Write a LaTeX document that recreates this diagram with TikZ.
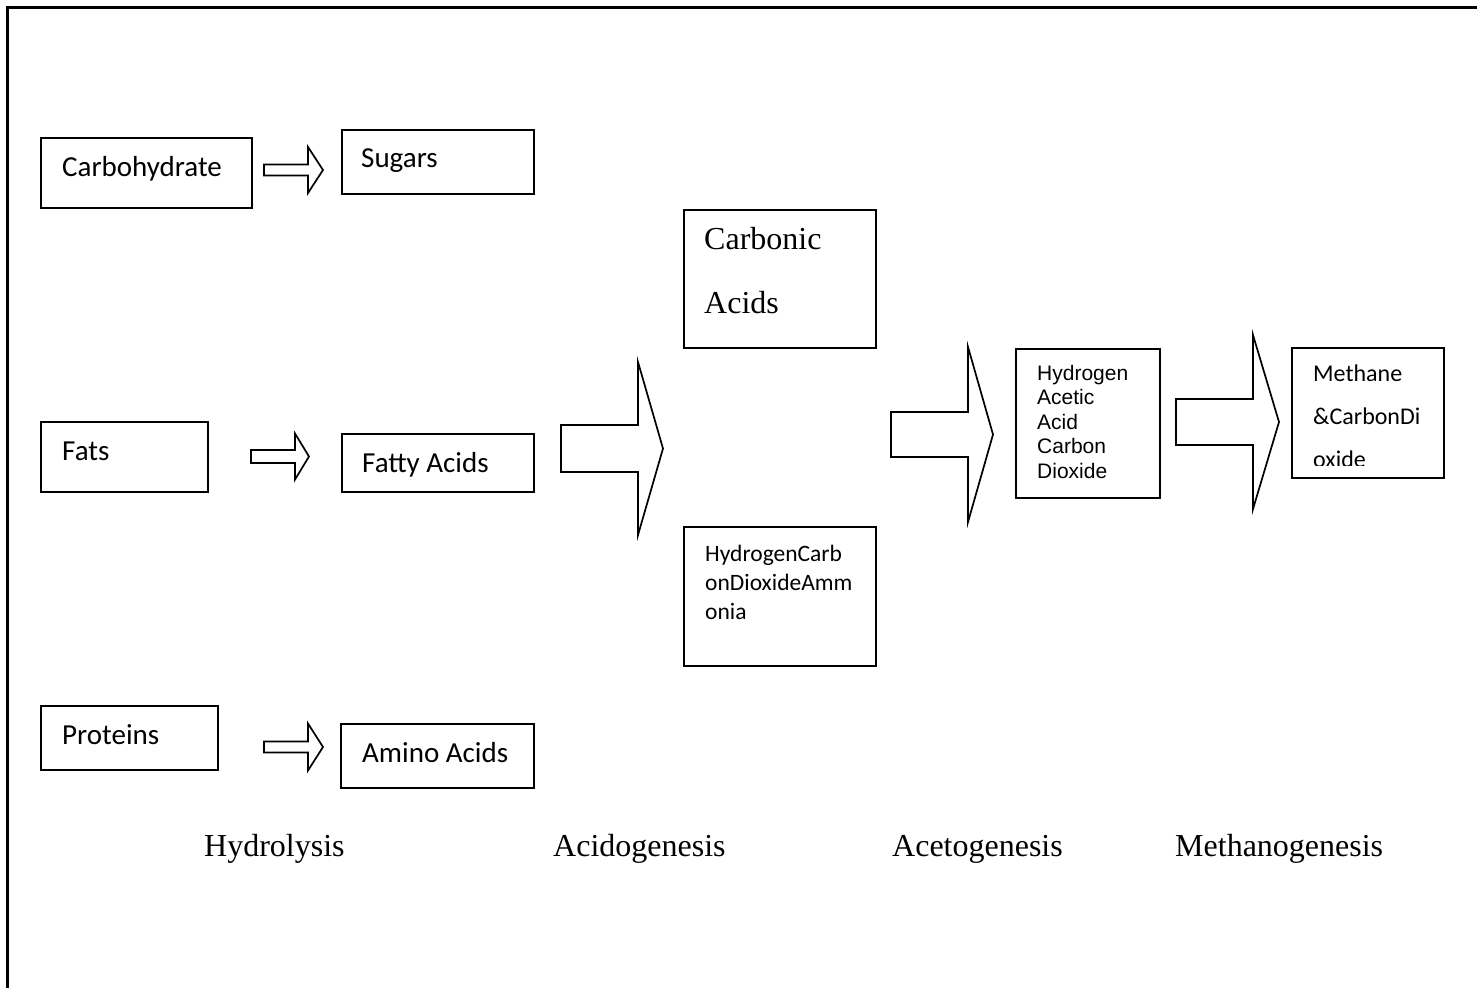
\documentclass[tikz,border=0pt]{standalone}
\usepackage{fontspec}
\setmainfont{Liberation Serif}
\newfontfamily\calfont{Carlito}
\newfontfamily\arfont{Liberation Sans}
\tikzset{
  bx/.style={draw, line width=2pt, inner sep=0pt, anchor=north west},
  lbl/.style={anchor=base west, inner sep=0pt},
  cal/.style={font=\calfont\fontsize{29}{35}\selectfont},
  calsm/.style={font=\calfont\fontsize{23.5}{29}\selectfont},
  calme/.style={font=\calfont\fontsize{24}{29}\selectfont},
  ari/.style={font=\arfont\fontsize{21}{24.5}\selectfont},
  tms/.style={font=\fontsize{32}{38}\selectfont},
  blk/.style={draw, line width=1.7pt, line join=miter, fill=white},
}
\newcommand\blkarrow[6]{%
  \draw[blk] (#1,#4-#5) -- (#2,#4-#5) -- (#2,#4-#6) -- (#3,#4) -- (#2,#4+#6) -- (#2,#4+#5) -- (#1,#4+#5) -- cycle;}
\begin{document}
\begin{tikzpicture}[x=1pt,y=-1pt]
\useasboundingbox (0,0) rectangle (1477,988);
\fill[white] (0,0) rectangle (1477,988);
% frame
\draw[line width=3pt] (7,988) -- (7,7.5) -- (1477,7.5);

% boxes
\node[bx, minimum width=211, minimum height=70] (carb) at (40,137) {};
\node[bx, minimum width=192, minimum height=64] (sug) at (341,129) {};
\node[bx, minimum width=167, minimum height=70] (fats) at (40,421) {};
\node[bx, minimum width=192, minimum height=58] (fatty) at (341,433) {};
\node[bx, minimum width=177, minimum height=64] (prot) at (40,705) {};
\node[bx, minimum width=193, minimum height=64] (amino) at (340,723) {};
\node[bx, minimum width=192, minimum height=138] (carbonic) at (683,209) {};
\node[bx, minimum width=192, minimum height=139] (hcda) at (683,526) {};
\node[bx, minimum width=144, minimum height=149] (haac) at (1015,348) {};
\node[bx, minimum width=152, minimum height=130] (meth) at (1291,347) {};

% texts
\node[lbl, cal] (tcarb) at (62,176) {Carbohydrate};
\node[lbl, cal] (tsug) at (361,167) {Sugars};
\node[lbl, cal] (tfats) at (62,460) {Fats};
\node[lbl, cal] (tfatty) at (362,472) {Fatty Acids};
\node[lbl, cal] (tprot) at (62,744) {Proteins};
\node[lbl, cal] (tamino) at (362,762) {Amino Acids};

\node[lbl, tms] (tcb1) at (704,249) {Carbonic};
\node[lbl, tms] (tcb2) at (704,313) {Acids};

\node[lbl, calsm] (th1) at (705,561) {HydrogenCarb};
\node[lbl, calsm] (th2) at (705,590) {onDioxideAmm};
\node[lbl, calsm] (th3) at (705,619) {onia};

\node[lbl, ari] (ta1) at (1037,380) {Hydrogen};
\node[lbl, ari] (ta2) at (1037,404.5) {Acetic};
\node[lbl, ari] (ta3) at (1037,429) {Acid};
\node[lbl, ari] (ta4) at (1037,453.5) {Carbon};
\node[lbl, ari] (ta5) at (1037,478) {Dioxide};

\node[lbl, calme] (tm1) at (1313,381) {Methane};
\node[lbl, calme] (tm2) at (1313,424) {\&CarbonDi};
\begin{scope}
  \clip (1292,440) rectangle (1442,465.5);
  \node[lbl, calme] (tm3) at (1313,467) {oxide};
\end{scope}

% stage labels
\node[lbl, tms] (s1) at (204,856) {Hydrolysis};
\node[lbl, tms] (s2) at (553,856) {Acidogenesis};
\node[lbl, tms] (s3) at (892,856) {Acetogenesis};
\node[lbl, tms] (s4) at (1175,856) {Methanogenesis};

% block arrows
\blkarrow{264}{308}{323}{170}{5.5}{23}
\blkarrow{251}{295}{309}{456.5}{6.5}{23}
\blkarrow{264}{308}{323}{747}{5.5}{23.5}
\blkarrow{561}{638}{663}{448.5}{23.5}{86.5}
\blkarrow{891}{968}{993}{434.5}{22.5}{87.5}
\blkarrow{1176}{1253}{1279}{422}{23}{87}
\end{tikzpicture}
\end{document}
